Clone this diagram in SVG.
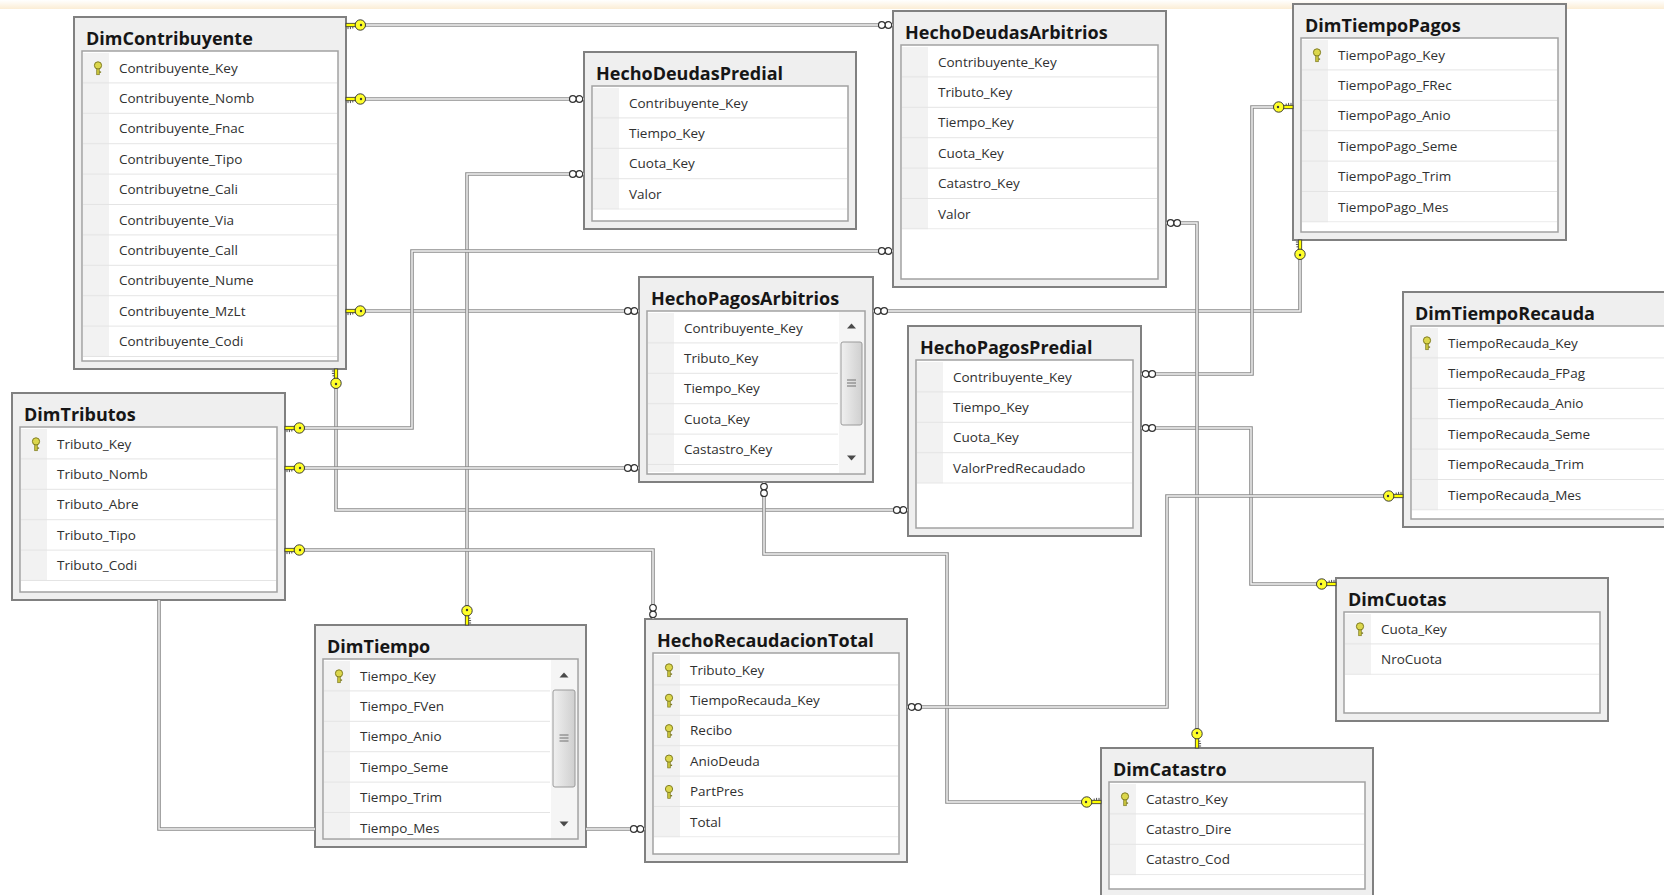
<svg xmlns="http://www.w3.org/2000/svg" width="1664" height="895" viewBox="0 0 1664 895">
<defs>
  <style>
    .frame{fill:#efefef;stroke:#808080;stroke-width:2}
    .grid{fill:#ffffff;stroke:#a2a2a2;stroke-width:1.5}
    .rows{fill:url(#rowsPat)}
    .title{font-family:"Open Sans","Liberation Sans",sans-serif;font-weight:700;font-size:18px;fill:#161616}
    .col{font-family:"Open Sans","Liberation Sans",sans-serif;font-size:13.5px;fill:#303030}
    .wo{fill:none;stroke:#8c8c8c;stroke-width:3.6}
    .wi{fill:none;stroke:#f4f4f4;stroke-width:1.4}
    .sbTrack{fill:#f5f5f5}
    .sbThumb{fill:url(#thumbGrad);stroke:#9a9a9a;stroke-width:1}
    .sbArrow{fill:#4a4a4a}
    .grip{stroke:#707070;stroke-width:1}
  </style>
  <linearGradient id="band" x1="0" y1="0" x2="0" y2="1">
    <stop offset="0" stop-color="#ffffff"/>
    <stop offset="1" stop-color="#fbedd5"/>
  </linearGradient>
  <linearGradient id="thumbGrad" x1="0" y1="0" x2="1" y2="0">
    <stop offset="0" stop-color="#f0f0f0"/>
    <stop offset="1" stop-color="#cfcfcf"/>
  </linearGradient>
  <!-- column rows: shaded key cell + separator, one tile per row -->
  <pattern id="rowsPat" patternUnits="userSpaceOnUse" width="700" height="30.4" patternTransform="translate(0,36)">
    <rect x="9" y="0" width="26" height="29.4" fill="#f2f2f2"/>
    <rect x="9" y="29.4" width="691" height="1" fill="#e4e4e4"/>
  </pattern>
  <!-- primary key marker inside a column row -->
  <g id="pkIcon">
    <rect x="-1.3" y="-0.5" width="2.6" height="7" fill="#c9c43c" stroke="#7f7c22" stroke-width="0.7"/>
    <rect x="1.3" y="3.2" width="1.8" height="1.4" fill="#7f7c22"/>
    <circle cx="0" cy="-2.8" r="3.6" fill="#dcd74c" stroke="#7f7c22" stroke-width="1"/>
  </g>
  <!-- relationship end: key (one) -->
  <g id="one">
    <rect x="0" y="-1.7" width="9.5" height="3.4" fill="#ffff00" stroke="#3a3a3a" stroke-width="0.8"/>
    <path d="M2,1.7 v2.4 M4.4,1.7 v2.4 M6.8,1.7 v1.8" stroke="#3a3a3a" stroke-width="0.9"/>
    <circle cx="14.3" cy="0" r="5.2" fill="#ffff2a" stroke="#3a3a3a" stroke-width="1"/>
    <circle cx="15" cy="0" r="1.2" fill="#3a3a3a"/>
  </g>
  <!-- relationship end: infinity (many) -->
  <g id="many">
    <circle cx="4.6" cy="0" r="3.3" fill="#ffffff" stroke="#333333" stroke-width="1.2"/>
    <circle cx="11.2" cy="0" r="3.3" fill="#ffffff" stroke="#333333" stroke-width="1.2"/>
  </g>
</defs>

<rect x="0" y="0" width="1664" height="895" fill="#ffffff"/>
<rect x="0" y="0" width="1664" height="9" fill="url(#band)"/>

<!-- ============ tables ============ -->
<g id="DimContribuyente" transform="translate(74,17)">
  <rect class="frame" x="0" y="0" width="272" height="352"/>
  <text class="title" x="12" y="27.5">DimContribuyente</text>
  <rect class="grid" x="8" y="34" width="256" height="310"/>
  <rect class="rows" x="9" y="36" width="254" height="304"/>
  <use href="#pkIcon" x="24" y="51.2"/>
  <text class="col" x="45" y="55.5">
    <tspan x="45" dy="0">Contribuyente_Key</tspan>
    <tspan x="45" dy="30.4">Contribuyente_Nomb</tspan>
    <tspan x="45" dy="30.4">Contribuyente_Fnac</tspan>
    <tspan x="45" dy="30.4">Contribuyente_Tipo</tspan>
    <tspan x="45" dy="30.4">Contribuyetne_Cali</tspan>
    <tspan x="45" dy="30.4">Contribuyente_Via</tspan>
    <tspan x="45" dy="30.4">Contribuyente_Call</tspan>
    <tspan x="45" dy="30.4">Contribuyente_Nume</tspan>
    <tspan x="45" dy="30.4">Contribuyente_MzLt</tspan>
    <tspan x="45" dy="30.4">Contribuyente_Codi</tspan>
  </text>
</g>

<g id="HechoDeudasPredial" transform="translate(584,52)">
  <rect class="frame" x="0" y="0" width="272" height="177"/>
  <text class="title" x="12" y="27.5">HechoDeudasPredial</text>
  <rect class="grid" x="8" y="34" width="256" height="135"/>
  <rect class="rows" x="9" y="36" width="254" height="121.6"/>
  <text class="col" x="45" y="55.5">
    <tspan x="45" dy="0">Contribuyente_Key</tspan>
    <tspan x="45" dy="30.4">Tiempo_Key</tspan>
    <tspan x="45" dy="30.4">Cuota_Key</tspan>
    <tspan x="45" dy="30.4">Valor</tspan>
  </text>
</g>

<g id="HechoDeudasArbitrios" transform="translate(893,11)">
  <rect class="frame" x="0" y="0" width="273" height="276"/>
  <text class="title" x="12" y="27.5">HechoDeudasArbitrios</text>
  <rect class="grid" x="8" y="34" width="257" height="234"/>
  <rect class="rows" x="9" y="36" width="255" height="182.4"/>
  <text class="col" x="45" y="55.5">
    <tspan x="45" dy="0">Contribuyente_Key</tspan>
    <tspan x="45" dy="30.4">Tributo_Key</tspan>
    <tspan x="45" dy="30.4">Tiempo_Key</tspan>
    <tspan x="45" dy="30.4">Cuota_Key</tspan>
    <tspan x="45" dy="30.4">Catastro_Key</tspan>
    <tspan x="45" dy="30.4">Valor</tspan>
  </text>
</g>

<g id="DimTiempoPagos" transform="translate(1293,4)">
  <rect class="frame" x="0" y="0" width="273" height="236"/>
  <text class="title" x="12" y="27.5">DimTiempoPagos</text>
  <rect class="grid" x="8" y="34" width="257" height="194"/>
  <rect class="rows" x="9" y="36" width="255" height="182.4"/>
  <use href="#pkIcon" x="24" y="51.2"/>
  <text class="col" x="45" y="55.5">
    <tspan x="45" dy="0">TiempoPago_Key</tspan>
    <tspan x="45" dy="30.4">TiempoPago_FRec</tspan>
    <tspan x="45" dy="30.4">TiempoPago_Anio</tspan>
    <tspan x="45" dy="30.4">TiempoPago_Seme</tspan>
    <tspan x="45" dy="30.4">TiempoPago_Trim</tspan>
    <tspan x="45" dy="30.4">TiempoPago_Mes</tspan>
  </text>
</g>

<g id="HechoPagosArbitrios" transform="translate(639,277)">
  <rect class="frame" x="0" y="0" width="234" height="205"/>
  <text class="title" x="12" y="27.5">HechoPagosArbitrios</text>
  <rect class="grid" x="8" y="34" width="218" height="163"/>
  <rect class="rows" x="9" y="36" width="190" height="159"/>
  <text class="col" x="45" y="55.5">
    <tspan x="45" dy="0">Contribuyente_Key</tspan>
    <tspan x="45" dy="30.4">Tributo_Key</tspan>
    <tspan x="45" dy="30.4">Tiempo_Key</tspan>
    <tspan x="45" dy="30.4">Cuota_Key</tspan>
    <tspan x="45" dy="30.4">Castastro_Key</tspan>
  </text>
  <g class="scrollbar">
    <rect class="sbTrack" x="200" y="35" width="25" height="161"/>
    <path class="sbArrow" d="M208,51.5 l4.5,-5 l4.5,5 z"/>
    <rect class="sbThumb" x="202" y="65" width="21" height="83" rx="2"/>
    <path class="grip" d="M208,103 h9 M208,106 h9 M208,109 h9"/>
    <path class="sbArrow" d="M208,178.5 l4.5,5 l4.5,-5 z"/>
  </g>
</g>

<g id="HechoPagosPredial" transform="translate(908,326)">
  <rect class="frame" x="0" y="0" width="233" height="210"/>
  <text class="title" x="12" y="27.5">HechoPagosPredial</text>
  <rect class="grid" x="8" y="34" width="217" height="168"/>
  <rect class="rows" x="9" y="36" width="215" height="121.6"/>
  <text class="col" x="45" y="55.5">
    <tspan x="45" dy="0">Contribuyente_Key</tspan>
    <tspan x="45" dy="30.4">Tiempo_Key</tspan>
    <tspan x="45" dy="30.4">Cuota_Key</tspan>
    <tspan x="45" dy="30.4">ValorPredRecaudado</tspan>
  </text>
</g>

<g id="DimTiempoRecauda" transform="translate(1403,292)">
  <rect class="frame" x="0" y="0" width="270" height="235"/>
  <text class="title" x="12" y="27.5">DimTiempoRecauda</text>
  <rect class="grid" x="8" y="34" width="254" height="193"/>
  <rect class="rows" x="9" y="36" width="252" height="182.4"/>
  <use href="#pkIcon" x="24" y="51.2"/>
  <text class="col" x="45" y="55.5">
    <tspan x="45" dy="0">TiempoRecauda_Key</tspan>
    <tspan x="45" dy="30.4">TiempoRecauda_FPag</tspan>
    <tspan x="45" dy="30.4">TiempoRecauda_Anio</tspan>
    <tspan x="45" dy="30.4">TiempoRecauda_Seme</tspan>
    <tspan x="45" dy="30.4">TiempoRecauda_Trim</tspan>
    <tspan x="45" dy="30.4">TiempoRecauda_Mes</tspan>
  </text>
</g>

<g id="DimCuotas" transform="translate(1336,578)">
  <rect class="frame" x="0" y="0" width="272" height="143"/>
  <text class="title" x="12" y="27.5">DimCuotas</text>
  <rect class="grid" x="8" y="34" width="256" height="101"/>
  <rect class="rows" x="9" y="36" width="254" height="60.8"/>
  <use href="#pkIcon" x="24" y="51.2"/>
  <text class="col" x="45" y="55.5">
    <tspan x="45" dy="0">Cuota_Key</tspan>
    <tspan x="45" dy="30.4">NroCuota</tspan>
  </text>
</g>

<g id="DimTributos" transform="translate(12,393)">
  <rect class="frame" x="0" y="0" width="273" height="207"/>
  <text class="title" x="12" y="27.5">DimTributos</text>
  <rect class="grid" x="8" y="34" width="257" height="165"/>
  <rect class="rows" x="9" y="36" width="255" height="152"/>
  <use href="#pkIcon" x="24" y="51.2"/>
  <text class="col" x="45" y="55.5">
    <tspan x="45" dy="0">Tributo_Key</tspan>
    <tspan x="45" dy="30.4">Tributo_Nomb</tspan>
    <tspan x="45" dy="30.4">Tributo_Abre</tspan>
    <tspan x="45" dy="30.4">Tributo_Tipo</tspan>
    <tspan x="45" dy="30.4">Tributo_Codi</tspan>
  </text>
</g>

<g id="DimTiempo" transform="translate(315,625)">
  <rect class="frame" x="0" y="0" width="271" height="222"/>
  <text class="title" x="12" y="27.5">DimTiempo</text>
  <rect class="grid" x="8" y="34" width="255" height="180"/>
  <rect class="rows" x="9" y="36" width="226" height="177"/>
  <use href="#pkIcon" x="24" y="51.2"/>
  <text class="col" x="45" y="55.5">
    <tspan x="45" dy="0">Tiempo_Key</tspan>
    <tspan x="45" dy="30.4">Tiempo_FVen</tspan>
    <tspan x="45" dy="30.4">Tiempo_Anio</tspan>
    <tspan x="45" dy="30.4">Tiempo_Seme</tspan>
    <tspan x="45" dy="30.4">Tiempo_Trim</tspan>
    <tspan x="45" dy="30.4">Tiempo_Mes</tspan>
  </text>
  <g class="scrollbar">
    <rect class="sbTrack" x="236" y="35" width="26" height="178"/>
    <path class="sbArrow" d="M244.5,52.5 l4.5,-5 l4.5,5 z"/>
    <rect class="sbThumb" x="238" y="65" width="22" height="97" rx="2"/>
    <path class="grip" d="M244.5,110 h9 M244.5,113 h9 M244.5,116 h9"/>
    <path class="sbArrow" d="M244.5,196.5 l4.5,5 l4.5,-5 z"/>
  </g>
</g>

<g id="HechoRecaudacionTotal" transform="translate(645,619)">
  <rect class="frame" x="0" y="0" width="262" height="243"/>
  <text class="title" x="12" y="27.5">HechoRecaudacionTotal</text>
  <rect class="grid" x="8" y="34" width="246" height="201"/>
  <rect class="rows" x="9" y="36" width="244" height="182.4"/>
  <use href="#pkIcon" x="24" y="51.2"/>
  <use href="#pkIcon" x="24" y="81.6"/>
  <use href="#pkIcon" x="24" y="112"/>
  <use href="#pkIcon" x="24" y="142.4"/>
  <use href="#pkIcon" x="24" y="172.8"/>
  <text class="col" x="45" y="55.5">
    <tspan x="45" dy="0">Tributo_Key</tspan>
    <tspan x="45" dy="30.4">TiempoRecauda_Key</tspan>
    <tspan x="45" dy="30.4">Recibo</tspan>
    <tspan x="45" dy="30.4">AnioDeuda</tspan>
    <tspan x="45" dy="30.4">PartPres</tspan>
    <tspan x="45" dy="30.4">Total</tspan>
  </text>
</g>

<g id="DimCatastro" transform="translate(1101,748)">
  <rect class="frame" x="0" y="0" width="272" height="149"/>
  <text class="title" x="12" y="27.5">DimCatastro</text>
  <rect class="grid" x="8" y="34" width="256" height="107"/>
  <rect class="rows" x="9" y="36" width="254" height="91.2"/>
  <use href="#pkIcon" x="24" y="51.2"/>
  <text class="col" x="45" y="55.5">
    <tspan x="45" dy="0">Catastro_Key</tspan>
    <tspan x="45" dy="30.4">Catastro_Dire</tspan>
    <tspan x="45" dy="30.4">Catastro_Cod</tspan>
  </text>
</g>

<!-- ============ relationships ============ -->
<g id="connectors">
  <g id="rel-contrib-deudasarb">
    <path class="wo" d="M346,25 H893"/><path class="wi" d="M346,25 H893"/>
    <use href="#one" transform="translate(346,25)"/>
    <use href="#many" transform="translate(893,25) rotate(180)"/>
  </g>
  <g id="rel-contrib-deudaspred">
    <path class="wo" d="M346,99 H584"/><path class="wi" d="M346,99 H584"/>
    <use href="#one" transform="translate(346,99)"/>
    <use href="#many" transform="translate(584,99) rotate(180)"/>
  </g>
  <g id="rel-contrib-pagosarb">
    <path class="wo" d="M346,311 H639"/><path class="wi" d="M346,311 H639"/>
    <use href="#one" transform="translate(346,311)"/>
    <use href="#many" transform="translate(639,311) rotate(180)"/>
  </g>
  <g id="rel-contrib-pagospred">
    <path class="wo" d="M336,369 V510 H908"/><path class="wi" d="M336,369 V510 H908"/>
    <use href="#one" transform="translate(336,369) rotate(90)"/>
    <use href="#many" transform="translate(908,510) rotate(180)"/>
  </g>
  <g id="rel-tiempo-deudaspred">
    <path class="wo" d="M467,625 V174 H584"/><path class="wi" d="M467,625 V174 H584"/>
    <use href="#one" transform="translate(467,625) rotate(-90)"/>
    <use href="#many" transform="translate(584,174) rotate(180)"/>
  </g>
  <g id="rel-tributo-deudasarb">
    <path class="wo" d="M285,428 H412 V251 H893"/><path class="wi" d="M285,428 H412 V251 H893"/>
    <use href="#one" transform="translate(285,428)"/>
    <use href="#many" transform="translate(893,251) rotate(180)"/>
  </g>
  <g id="rel-tributo-pagosarb">
    <path class="wo" d="M285,468 H639"/><path class="wi" d="M285,468 H639"/>
    <use href="#one" transform="translate(285,468)"/>
    <use href="#many" transform="translate(639,468) rotate(180)"/>
  </g>
  <g id="rel-tributo-recaudacion">
    <path class="wo" d="M285,550 H653 V619"/><path class="wi" d="M285,550 H653 V619"/>
    <use href="#one" transform="translate(285,550)"/>
    <use href="#many" transform="translate(653,619) rotate(-90)"/>
  </g>
  <g id="rel-tributos-tiempo">
    <path class="wo" d="M159,600 V829 H315"/><path class="wi" d="M159,600 V829 H315"/>
  </g>
  <g id="rel-tiempo-recaudacion">
    <path class="wo" d="M586,829 H645"/><path class="wi" d="M586,829 H645"/>
    <use href="#many" transform="translate(645,829) rotate(180)"/>
  </g>
  <g id="rel-tiempopagos-pagosarb">
    <path class="wo" d="M1300,240 V311 H873"/><path class="wi" d="M1300,240 V311 H873"/>
    <use href="#one" transform="translate(1300,240) rotate(90)"/>
    <use href="#many" transform="translate(873,311)"/>
  </g>
  <g id="rel-tiempopagos-pagospred">
    <path class="wo" d="M1293,107 H1252 V374 H1141"/><path class="wi" d="M1293,107 H1252 V374 H1141"/>
    <use href="#one" transform="translate(1293,107) rotate(180)"/>
    <use href="#many" transform="translate(1141,374)"/>
  </g>
  <g id="rel-cuotas-pagospred">
    <path class="wo" d="M1336,584 H1251 V428 H1141"/><path class="wi" d="M1336,584 H1251 V428 H1141"/>
    <use href="#one" transform="translate(1336,584) rotate(180)"/>
    <use href="#many" transform="translate(1141,428)"/>
  </g>
  <g id="rel-catastro-deudasarb">
    <path class="wo" d="M1197,748 V223 H1166"/><path class="wi" d="M1197,748 V223 H1166"/>
    <use href="#one" transform="translate(1197,748) rotate(-90)"/>
    <use href="#many" transform="translate(1166,223)"/>
  </g>
  <g id="rel-catastro-pagosarb">
    <path class="wo" d="M1101,802 H947 V554 H764 V482"/><path class="wi" d="M1101,802 H947 V554 H764 V482"/>
    <use href="#one" transform="translate(1101,802) rotate(180)"/>
    <use href="#many" transform="translate(764,482) rotate(90)"/>
  </g>
  <g id="rel-tiemporecauda-recaudacion">
    <path class="wo" d="M1403,496 H1167 V707 H907"/><path class="wi" d="M1403,496 H1167 V707 H907"/>
    <use href="#one" transform="translate(1403,496) rotate(180)"/>
    <use href="#many" transform="translate(907,707)"/>
  </g>
</g>
</svg>
